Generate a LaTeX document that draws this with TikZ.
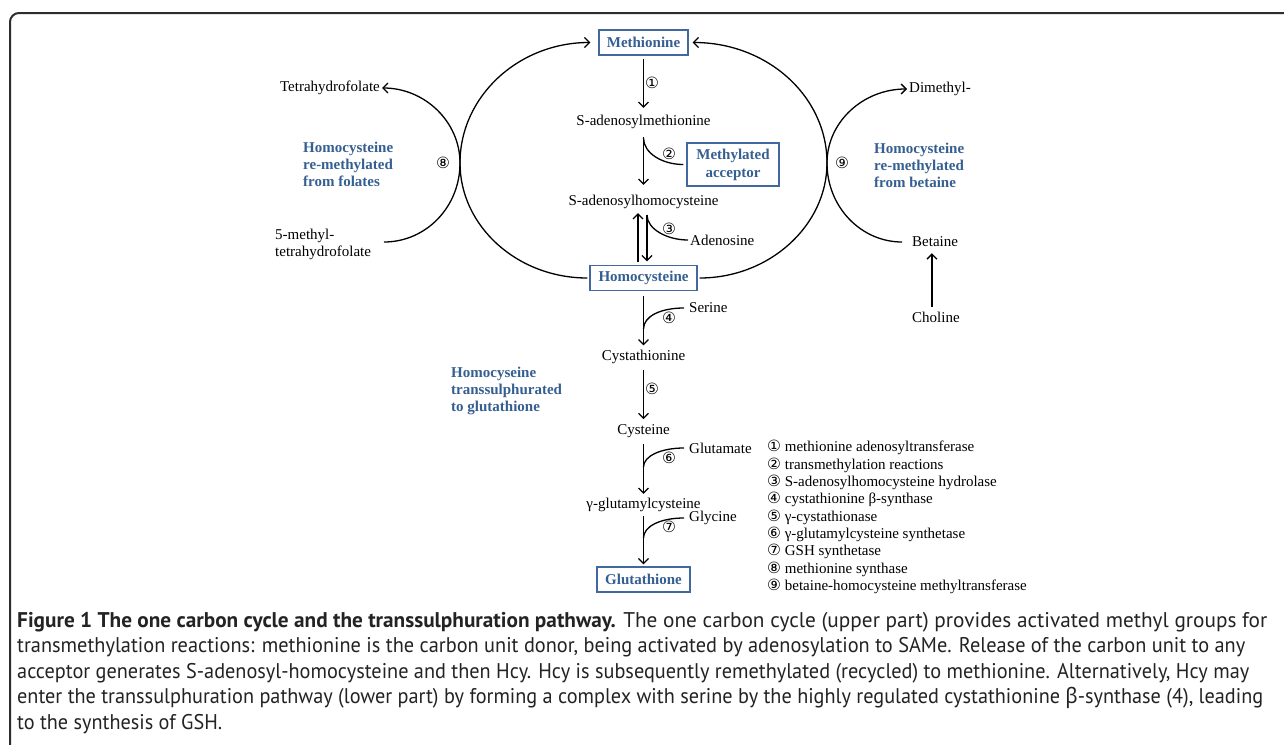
\documentclass[tikz,border=0pt]{standalone}
\usepackage{fontspec}
\setmainfont{Liberation Serif}
\newfontfamily\capfont{PT Sans}
\newfontfamily\grkfont{Noto Sans}
\newfontfamily\circfont{DejaVu Sans}
\usetikzlibrary{arrows.meta,calc}
\definecolor{lblblue}{RGB}{54,95,145}
\definecolor{boxblue}{RGB}{65,105,160}
\definecolor{framegray}{RGB}{45,45,45}
\definecolor{captext}{RGB}{35,35,35}
\newlength\capw
\newcommand\capone{\textbf{Figure 1 The one carbon cycle and the transsulphuration pathway.} The one carbon cycle (upper part) provides activated methyl groups for}
\newcommand\cnum[1]{{\circfont\fontsize{15.5}{15.5}\selectfont #1}}
\newsavebox\capbox
\AtBeginDocument{%
  \sbox\capbox{\capfont\fontsize{10pt}{12pt}\selectfont\capone}%
  \setlength\capw{\wd\capbox}%
  \pgfmathsetmacro\capsz{10*1250/\capw}%
}
\begin{document}
\begin{tikzpicture}[x=1pt,y=-1pt,
  lbl/.style={font=\fontsize{15}{17}\selectfont, inner sep=2pt},
  bluelbl/.style={font=\fontsize{15}{17}\selectfont\bfseries, text=lblblue, align=left, inner sep=0pt},
  bx/.style={draw=boxblue, line width=1.3pt, font=\fontsize{15}{18}\selectfont\bfseries, text=lblblue, inner xsep=7pt, minimum height=25pt},
  rx/.style={line width=1.3pt, -{Straight Barb[length=5pt,width=10pt]}},
  ln/.style={line width=1.3pt},
  num/.style={font=\circfont\fontsize{15.5}{15.5}\selectfont, inner sep=0pt},
  legend/.style={font=\fontsize{15}{17.3}\selectfont, align=left, inner sep=0pt},
  captxt/.style={inner sep=0pt, anchor=base west, text=captext, font=\capfont\fontsize{\capsz}{\capsz}\selectfont}
]
\useasboundingbox (0,0) rectangle (1284,744);
\fill[white] (0,0) rectangle (1284,744);
% frame
\draw[framegray, line width=2pt, rounded corners=9pt] (1310,13) -- (10,13) -- (10,770);

% main column
\node[bx, minimum width=89pt] (met) at (643.5,42.5) {Methionine};
\node[lbl] (sam) at (643.5,122) {S-adenosylmethionine};
\node[bx, align=center, minimum width=92pt, minimum height=43pt, font=\fontsize{15}{18}\selectfont\bfseries] (acc) at (733,164.5) {Methylated\\acceptor};
\node[lbl] (sah) at (643.5,202) {S-adenosylhomocysteine};
\node[lbl, anchor=west] (ado) at (688,240) {Adenosine};
\node[bx, minimum width=107pt] (hcy) at (643.5,278) {Homocysteine};
\node[lbl, anchor=west] (ser) at (687,308) {Serine};
\node[lbl] (cth) at (643.5,357) {Cystathionine};
\node[lbl] (cys) at (643.5,431) {Cysteine};
\node[lbl, anchor=west] (glu) at (687,448) {Glutamate};
\node[lbl] (ggc) at (643.5,505) {γ-glutamylcysteine};
\node[lbl, anchor=west] (gly) at (687,518) {Glycine};
\node[bx, minimum width=93pt] (gsh) at (643.5,579.5) {Glutathione};

% side nodes
\node[lbl, anchor=east] (thf) at (382,88) {Tetrahydrofolate};
\node[lbl, anchor=west, align=left] (mthf) at (273,244) {5-methyl-\\tetrahydrofolate};
\node[lbl, anchor=west] (dim) at (907,89) {Dimethyl-};
\node[lbl, anchor=west] (bet) at (910,242) {Betaine};
\node[lbl, anchor=west] (cho) at (910,317) {Choline};

\node[bluelbl, anchor=west] (fol) at (303,164) {Homocysteine\\re-methylated\\from folates};
\node[bluelbl, anchor=west] (btl) at (874,165) {Homocysteine\\re-methylated\\from betaine};
\node[bluelbl, anchor=west] (trs) at (451,391) {Homocyseine\\transsulphurated\\to glutathione};

% enzyme numbers
\node[num] (n1) at (652,83) {①};
\node[num] (n2) at (669,154) {②};
\node[num] (n3) at (669,229) {③};
\node[num] (n4) at (669,318) {④};
\node[num] (n5) at (652,389) {⑤};
\node[num] (n6) at (669,458) {⑥};
\node[num] (n7) at (669,527) {⑦};
\node[num] (n8) at (443,163) {⑧};
\node[num] (n9) at (842,163) {⑨};

% vertical arrows
\draw[rx, shorten <=3pt, shorten >=5pt] (met.south) -- (sam.north);
\draw[rx, shorten <=6pt, shorten >=8pt] (sam.south) -- (sah.north);
\draw[rx, shorten <=4pt, shorten >=3.5pt] ([xshift=3.5pt]sah.south) -- ([xshift=3.5pt]hcy.north);
\draw[rx, shorten <=2.5pt, shorten >=2pt] ([xshift=-5.5pt]hcy.north) -- ([xshift=-5.5pt]sah.south);
\draw[rx, shorten <=4.5pt, shorten >=2.5pt] (hcy.south) -- (cth.north);
\draw[rx, shorten <=4pt, shorten >=3pt] (cth.south) -- (cys.north);
\draw[rx, shorten <=4pt, shorten >=2pt] (cys.south) -- (ggc.north);
\draw[rx, shorten <=1.5pt, shorten >=2pt] (ggc.south) -- (gsh.north);
\draw[rx, shorten <=3pt, shorten >=4pt] ([xshift=-4pt]cho.north) -- ([xshift=-4pt]cho.north |- bet.south);

% side curves into the column
\coordinate (c2) at (643.5,138);
\coordinate (c3) at (647,215);
\coordinate (c4) at (643.5,329);
\coordinate (c6) at (643.5,467);
\coordinate (c7) at (643.5,538);
\draw[ln] ([xshift=-3pt]acc.west) .. controls (662,164.5) and (643.5,153) .. (c2);
\draw[ln] (c3) .. controls (647,229) and (667,240) .. (ado.west);
\draw[ln] ([xshift=-3pt]ser.west) .. controls (661,308) and (643.5,316) .. (c4);
\draw[ln] ([xshift=-3pt]glu.west) .. controls (661,448) and (643.5,456) .. (c6);
\draw[ln] ([xshift=-3pt]gly.west) .. controls (661,518) and (643.5,526) .. (c7);

% big cycle arcs
\draw[rx] ([xshift=-2pt]hcy.west) .. controls (517,278) and (460,226) .. (460,163) .. controls (460,96) and (519,42.5) .. ([xshift=-8pt]met.west);
\draw[rx] ([xshift=2pt]hcy.east) .. controls (770,278) and (827,225) .. (827,163) .. controls (827,96) and (767,42.5) .. ([xshift=4pt]met.east);

% small remethylation arcs
\coordinate (mthfend) at (384,242);
\draw[rx] (mthfend) .. controls (426,242) and (460,207) .. (460,163) .. controls (460,122) and (425,88) .. (thf.east);
\draw[rx] ([xshift=-8pt]bet.west) .. controls (861,242) and (827,207) .. (827,163) .. controls (827,122) and (863,89) .. (dim.west);

% legend
\node[legend, anchor=west] (leg) at (767,517) {\cnum{①} methionine adenosyltransferase\\
\cnum{②} transmethylation reactions\\
\cnum{③} S-adenosylhomocysteine hydrolase\\
\cnum{④} cystathionine β-synthase\\
\cnum{⑤} γ-cystathionase\\
\cnum{⑥} γ-glutamylcysteine synthetase\\
\cnum{⑦} GSH synthetase\\
\cnum{⑧} methionine synthase\\
\cnum{⑨} betaine-homocysteine methyltransferase};

% caption
\node[captxt] (cap1) at (17,627) {\resizebox{1250pt}{\height}{\capone}};
\node[captxt] (cap2) at (17,652.5) {\resizebox{1228pt}{\height}{transmethylation reactions: methionine is the carbon unit donor, being activated by adenosylation to SAMe. Release of the carbon unit to any}};
\node[captxt] (cap3) at (17,678) {\resizebox{1232pt}{\height}{acceptor generates S-adenosyl-homocysteine and then Hcy. Hcy is subsequently remethylated (recycled) to methionine. Alternatively, Hcy may}};
\node[captxt] (cap4) at (17,703.5) {\resizebox{1246pt}{\height}{enter the transsulphuration pathway (lower part) by forming a complex with serine by the highly regulated cystathionine {\grkfont β}-synthase (4), leading}};
\node[captxt] (cap5) at (17,729) {\resizebox{205pt}{\height}{to the synthesis of GSH.}};
\end{tikzpicture}
\end{document}
